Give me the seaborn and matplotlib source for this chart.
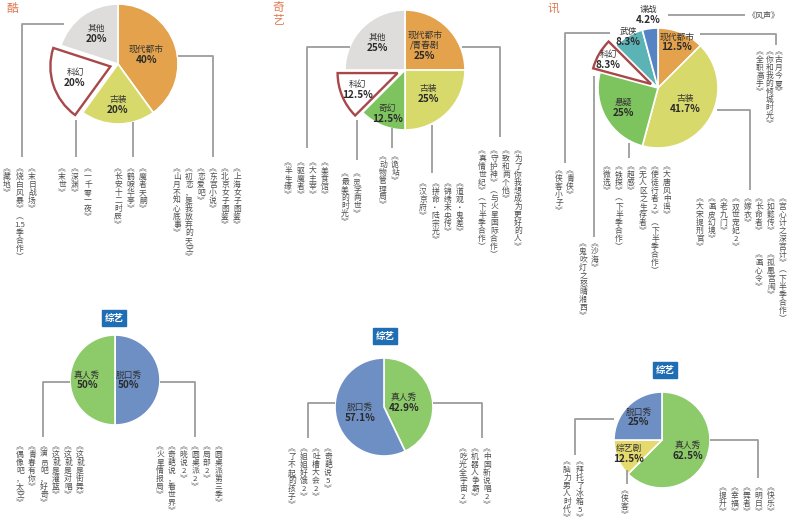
import re
import numpy as np
import matplotlib
matplotlib.use('Agg')
import matplotlib.pyplot as plt
import seaborn as sns

W, H = 790, 521

# ---- data ----
# platform names (only the part left inside the frame is visible)
platforms = ['酷', '奇艺', '讯']

p1_labels = ['现代都市', '古装', '科幻', '其他']
p1_values = [40, 20, 20, 20]
p2_labels = ['现代都市\n/青春剧', '古装', '奇幻', '科幻', '其他']
p2_values = [25, 25, 12.5, 12.5, 25]
p3_labels = ['现代都市', '古装', '悬疑', '科幻', '武侠', '谍战']
p3_values = [12.5, 41.7, 25, 8.3, 8.3, 4.2]
p4_labels = ['脱口秀', '真人秀']
p4_values = [50, 50]
p5_labels = ['真人秀', '脱口秀']
p5_values = [42.9, 57.1]
p6_labels = ['真人秀', '综艺剧', '脱口秀']
p6_values = [62.5, 12.5, 25]
badge = '综艺'

# show titles per slice, left to right
p1_other = ['《藏地》', '《烧白风暴》（1.5季合作）', '《末日战场》']
p1_scifi = ['《末世》', '《深渊》', '《一千零一夜》']
p1_costume = ['《长安十二时辰》', '《鹤唳华亭》', '《魔者天嗣》']
p1_modern = ['《山月不知心底事》', '《初恋，是我放弃的天空》', '《恋爱吧》',
             '《东宫小说》', '《北京女子图鉴》', '《上海女子图鉴》']
p2_other = ['《半生缘》', '《驱魔者》', '《大主宰》', '《美食馆》']
p2_scifi = ['《最美的时光》', '《灵学两世》']
p2_fantasy = ['《动物管理局》', '《诡站》']
p2_costume = ['《汉京府》', '《拼命·陆宗光》', '《锦绣未央传》', '《道观·鬼差》']
p2_modern = ['《真情世纪》（下半季合作）', '《守护神》（与火星国际合作）',
             '《致和两个他》', '《为了你我想成为更好的人》']
p3_spy = '《风声》'
p3_modern = ['《全职高手》', '《你和我的倾城时光》', '《古月今夏》']
p3_wuxia = ['《侠客小子》', '《青侠》']
p3_scifi = ['《鬼吹灯之怒晴湘西》', '《沙海》']
p3_suspense = ['《微选》', '《铁探》（下半季合作）', '《超感》', '《无人区之生存者》',
               '《使徒行者2》（下半季合作）', '《大唐风中谣》']
p3_costume = ['《大宋提刑官》', '《画皮幻境》', '《老九门》', '《双世宠妃2》', '《嫁衣》',
              '《长命者》  《画心令》', '《如懿传》  《孤凰宫闱》',
              '《宫心计之深宫计》（下半季合作）']
p4_reality = ['《偶像吧，太空》', '《青春有你》', '《演员吧，好奇》',
              '《这就是灌篮》', '《这就是对唱》', '《这就是街舞》']
p4_talk = ['《火星情报局》', '《奇葩说，看世界》', '《晓说2》', '《圆桌派2》',
           '《局部2》', '《圆桌派第三季》']
p5_talk = ['《了不起的孩子》', '《姐姐好饿2》', '《吐槽大会2》', '《奇葩说5》']
p5_reality = ['《吃光全宇宙2》', '《机器人争霸》', '《中国新说唱2》']
p6_talk = ['《脑力男人时代》', '《拜托了冰箱5》']
p6_variety = ['《侠客》']
p6_reality = ['《提升》', '《幸福》', '《舞者》', '《明日》', '《快乐》']

# ---- colours ----
ORANGE = '#E3A24B'
YGREEN = '#D7D96B'
GRAY = '#DEDDDB'
WHITE = '#FFFFFF'
GREEN = '#7DC35E'
TEAL = '#5BB3B5'
BLUE = '#5683C3'
TALK = '#6D8FC4'
REAL = '#8DCA6A'
VARI = '#E5DA6E'
LINE = '#9C9C9C'
TXT = '#4d4d4d'

sns.set_theme(style='white')
plt.rcParams['font.family'] = ['Noto Sans CJK SC', 'DejaVu Sans']

fig = plt.figure(figsize=(W / 100, H / 100), dpi=100)
ax = fig.add_axes([0, 0, 1, 1])

VMAP = {'《': '︽', '》': '︾', '（': '︵', '）': '︶', '(': '︵', ')': '︶'}


def to_vertical(s):
    tokens = re.findall(r'[A-Za-z0-9.]+|.', s)
    return '\n'.join('' if t == ' ' else VMAP.get(t, t) for t in tokens)


def draw_pie(labels, values, colors, cx, cy, r, explode_idx=None, label_r=None):
    explode = [8 if i == explode_idx else 0 for i in range(len(values))]
    wedges, _ = ax.pie(values, colors=colors, startangle=90, counterclock=False,
                       center=(cx, H - cy), radius=r, explode=explode,
                       wedgeprops=dict(edgecolor='white', linewidth=1.2))
    if explode_idx is not None:
        w = wedges[explode_idx]
        w.set_edgecolor('#A8484A')
        w.set_linewidth(1.7)
        w.set_zorder(3)
    for i, w in enumerate(wedges):
        ang = np.deg2rad((w.theta1 + w.theta2) / 2)
        f = label_r[i]
        x = w.center[0] + f * r * np.cos(ang)
        y = w.center[1] + f * r * np.sin(ang)
        ax.text(x, y + 0.5, labels[i], ha='center', va='bottom', fontsize=6.3,
                color='#333333', linespacing=1.1, zorder=5)
        ax.text(x, y - 0.5, f'{values[i]:g}%', ha='center', va='top', fontsize=7.2,
                fontweight='bold', color='#2a2a2a', zorder=5)


def line(pts):
    xs = [p[0] for p in pts]
    ys = [H - p[1] for p in pts]
    ax.plot(xs, ys, color=LINE, lw=1.3, solid_capstyle='butt', zorder=1)


def columns(titles, x0, step, ytop, fs=5.6):
    for i, t in enumerate(titles):
        ax.text(x0 + i * step, H - ytop, to_vertical(t), ha='center', va='top',
                fontsize=fs, linespacing=1.0, color=TXT)


def badge_box(x, y):
    ax.text(x, H - y, badge, ha='center', va='center', fontsize=6.8, color='white',
            fontweight='bold',
            bbox=dict(boxstyle='square,pad=0.3', fc='#1F6DB3', ec='#1F6DB3'))


# ---- pies ----
draw_pie(p1_labels, p1_values, [ORANGE, YGREEN, WHITE, GRAY], 118, 64, 60,
         explode_idx=2, label_r=[0.5, 0.68, 0.62, 0.62])
draw_pie(p2_labels, p2_values, [ORANGE, YGREEN, GREEN, WHITE, GRAY], 405, 70, 60,
         explode_idx=3, label_r=[0.47, 0.55, 0.78, 0.72, 0.65])
draw_pie(p3_labels, p3_values, [ORANGE, YGREEN, GREEN, WHITE, TEAL, BLUE], 658, 88, 60,
         explode_idx=3, label_r=[0.83, 0.52, 0.66, 0.82, 1.0, 1.23])
draw_pie(p4_labels, p4_values, [TALK, REAL], 115, 380, 45, label_r=[0.3, 0.62])
draw_pie(p5_labels, p5_values, [REAL, TALK], 384, 407, 49, label_r=[0.42, 0.5])
draw_pie(p6_labels, p6_values, [REAL, VARI, TALK], 662, 440, 48,
         label_r=[0.58, 0.75, 0.68])

# ---- connector lines ----
for pts in [
    [(64, 24), (22, 24), (22, 157)], [(76, 120), (76, 157)], [(133, 122), (133, 157)],
    [(178, 56), (213, 56), (213, 157)],
    [(350, 47), (307, 47), (307, 148)], [(357, 120), (357, 160)], [(392, 128), (392, 148)],
    [(432, 125), (432, 173)], [(462, 47), (500, 47), (500, 137)],
    [(668, 15), (745, 15)], [(700, 34), (776, 34), (776, 45)],
    [(717, 110), (750, 110), (750, 190)], [(629, 143), (629, 158)],
    [(610, 33), (565, 33), (565, 163)], [(594, 76), (594, 237)],
    [(70, 382), (43, 382), (43, 437)], [(160, 382), (195, 382), (195, 437)],
    [(335, 403), (308, 403), (308, 438)], [(433, 403), (482, 403), (482, 438)],
    [(614, 419), (575, 419), (575, 455)], [(627, 470), (627, 484)],
    [(710, 440), (758, 440), (758, 478)],
]:
    line(pts)

# ---- title columns ----
columns(p1_other, 7, 12.5, 165)
columns(p1_scifi, 62, 13, 165)
columns(p1_costume, 118, 12.5, 165)
columns(p1_modern, 177, 12, 165)
columns(p2_other, 288, 12.3, 159)
columns(p2_scifi, 345, 12, 170)
columns(p2_fantasy, 383, 12, 153)
columns(p2_costume, 423, 12.3, 180)
columns(p2_modern, 482, 12, 147)
ax.text(748, H - 15, p3_spy, ha='left', va='center', fontsize=5.8, color=TXT)
columns(p3_modern, 760, 9.3, 48)
columns(p3_wuxia, 559, 11, 167)
columns(p3_scifi, 583, 12, 240)
columns(p3_suspense, 607, 12, 163)
columns(p3_costume, 700, 11.8, 195)
columns(p4_reality, 20, 12, 443)
columns(p4_talk, 160, 11.7, 443)
columns(p5_talk, 292, 12, 445)
columns(p5_reality, 463, 12, 445)
columns(p6_talk, 567, 13, 458)
columns(p6_variety, 625, 12, 487)
columns(p6_reality, 723, 11.8, 484)

# ---- badges & platform names ----
badge_box(114, 318)
badge_box(385, 336)
badge_box(665, 370)
for name, x, yt in zip(platforms, [12, 278, 553], [2, 1, 2]):
    ax.text(x, H - yt, '\n'.join(name), ha='center', va='top', fontsize=8.5,
            color='#E07A52', linespacing=1.0)

ax.set_xlim(0, W)
ax.set_ylim(0, H)
ax.set_aspect('equal')
ax.axis('off')
fig.savefig('out.png', dpi=100)
